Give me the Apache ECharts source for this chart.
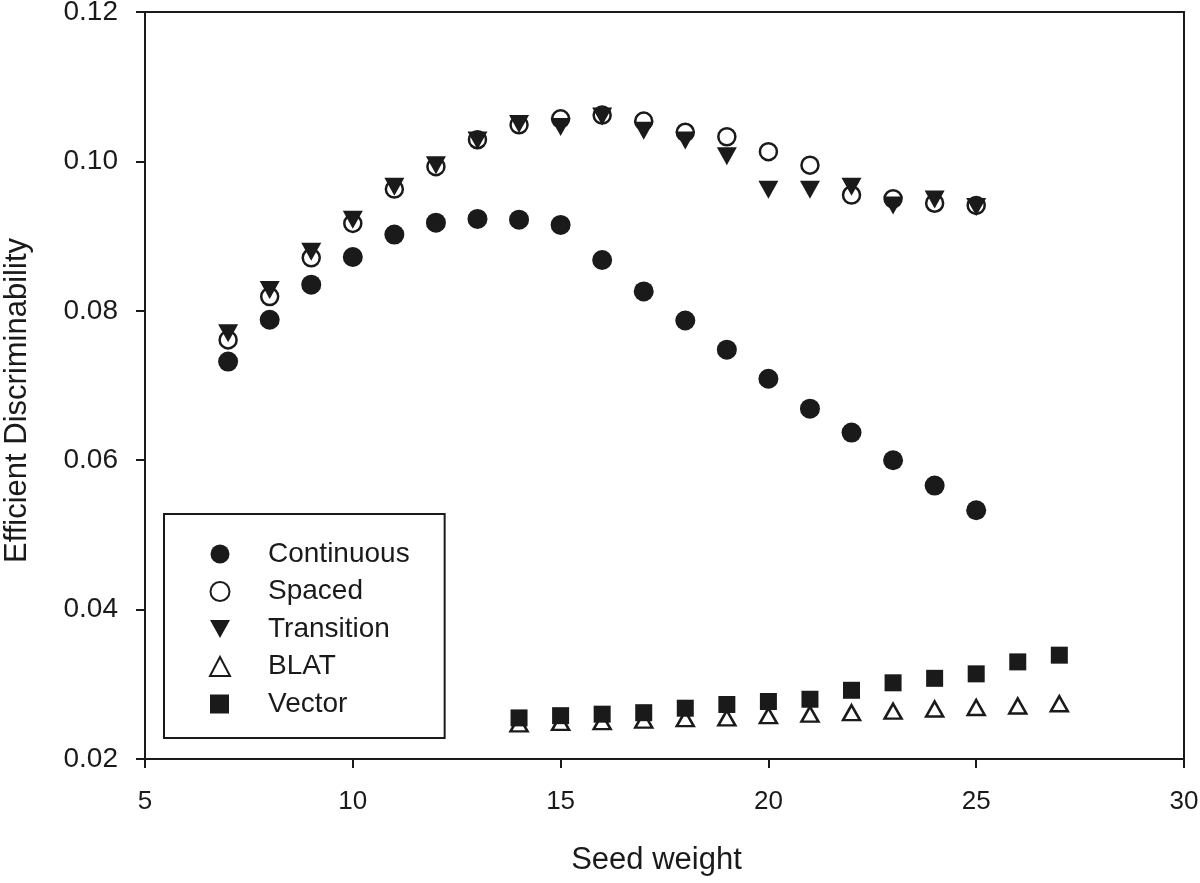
<!DOCTYPE html>
<html>
<head>
<meta charset="utf-8">
<script src="https://cdn.jsdelivr.net/npm/echarts@6/dist/echarts.min.js"></script>
<style>html,body{margin:0;padding:0;background:#fff;}#chart{width:1200px;height:883px;}</style>
</head>
<body>
<div id="chart"></div>
<script>
const seedA = [7,8,9,10,11,12,13,14,15,16,17,18,19,20,21,22,23,24,25];
const seedB = [14,15,16,17,18,19,20,21,22,23,24,25,26,27];
const continuous = [0.0732,0.0788,0.0835,0.0872,0.0902,0.0918,0.0923,0.0922,0.0915,0.0868,0.0826,0.0787,0.0748,0.0709,0.0669,0.0637,0.0600,0.0566,0.0533];
const spaced = [0.0761,0.0819,0.0871,0.0917,0.0963,0.0993,0.1029,0.1049,0.1057,0.1062,0.1054,0.1039,0.1033,0.1013,0.0995,0.0955,0.0950,0.0944,0.0941];
const transition = [0.0770,0.0828,0.0879,0.0922,0.0966,0.0995,0.1028,0.1050,0.1046,0.1060,0.1041,0.1028,0.1007,0.0962,0.0962,0.0966,0.0941,0.0949,0.0939];
const blat = [0.0247,0.0249,0.0250,0.0252,0.0254,0.0255,0.0258,0.0260,0.0262,0.0264,0.0267,0.0269,0.0271,0.0274];
const vector = [0.0255,0.0258,0.0260,0.0262,0.0268,0.0273,0.0277,0.0280,0.0292,0.0302,0.0308,0.0314,0.0330,0.0339];
const seriesNames = ['Continuous','Spaced','Transition','BLAT','Vector'];
const xTicks = {min:5, max:30, interval:5};
const yTicks = {min:0.02, max:0.12, interval:0.02};

const pair = (xs, ys) => xs.map((x, i) => [x, ys[i]]);
const FONT = '"Liberation Sans", Arial, Helvetica, sans-serif';
const downTri = 'path://M0,0 L20,0 L10,18 Z';

const chart = echarts.init(document.getElementById('chart'), null, {renderer:'canvas'});
chart.setOption({
  backgroundColor:'#ffffff',
  animation:false,
  grid:{left:145, right:16, top:12, bottom:124, containLabel:false, outerBoundsMode:'none',
        show:true, borderColor:'#1a1a1a', borderWidth:2, backgroundColor:'transparent'},
  xAxis:{
    type:'value', min:xTicks.min, max:xTicks.max, interval:xTicks.interval,
    name:'Seed weight', nameLocation:'middle', nameGap:86,
    nameTextStyle:{fontFamily:FONT, fontSize:31, color:'#1a1a1a', padding:[0,16,0,0]},
    axisLine:{lineStyle:{color:'#1a1a1a', width:2}},
    axisTick:{inside:false, length:9, lineStyle:{color:'#1a1a1a', width:2}},
    axisLabel:{fontFamily:FONT, fontSize:26, color:'#1a1a1a', margin:30},
    splitLine:{show:false}
  },
  yAxis:{
    type:'value', min:yTicks.min, max:yTicks.max, interval:yTicks.interval,
    name:'Efficient Discriminability', nameLocation:'middle', nameGap:112,
    nameTextStyle:{fontFamily:FONT, fontSize:31, color:'#1a1a1a', padding:[0,30,0,0]},
    axisLine:{lineStyle:{color:'#1a1a1a', width:2}},
    axisTick:{inside:false, length:9, lineStyle:{color:'#1a1a1a', width:2}},
    axisLabel:{fontFamily:FONT, fontSize:28, color:'#1a1a1a', margin:27, formatter:v => v.toFixed(2)},
    splitLine:{show:false}
  },
  legend:{
    orient:'vertical', left:164, top:514,
    padding:[26, 35, 20, 45],
    itemGap:9.5, itemWidth:20, itemHeight:19,
    borderColor:'#1a1a1a', borderWidth:2, backgroundColor:'#fff',
    textStyle:{fontFamily:FONT, fontSize:28, color:'#1a1a1a', padding:[0,0,0,33]},
    data:seriesNames
  },
  series:[
    {name:seriesNames[0], type:'scatter', data:pair(seedA, continuous), symbol:'circle', symbolSize:20,
     itemStyle:{color:'#1a1a1a', opacity:1}},
    {name:seriesNames[1], type:'scatter', data:pair(seedA, spaced), symbol:'circle', symbolSize:17,
     itemStyle:{color:'#ffffff', borderColor:'#1a1a1a', borderWidth:2.5, opacity:1}},
    {name:seriesNames[2], type:'scatter', data:pair(seedA, transition), symbol:downTri, symbolSize:[20,18],
     itemStyle:{color:'#1a1a1a', opacity:1}},
    {name:seriesNames[3], type:'scatter', data:pair(seedB, blat), symbol:'triangle', symbolSize:[17,15],
     itemStyle:{color:'#ffffff', borderColor:'#1a1a1a', borderWidth:2.5, opacity:1}},
    {name:seriesNames[4], type:'scatter', data:pair(seedB, vector), symbol:'square', symbolSize:17,
     itemStyle:{color:'#1a1a1a', opacity:1}}
  ]
});
</script>
</body>
</html>
